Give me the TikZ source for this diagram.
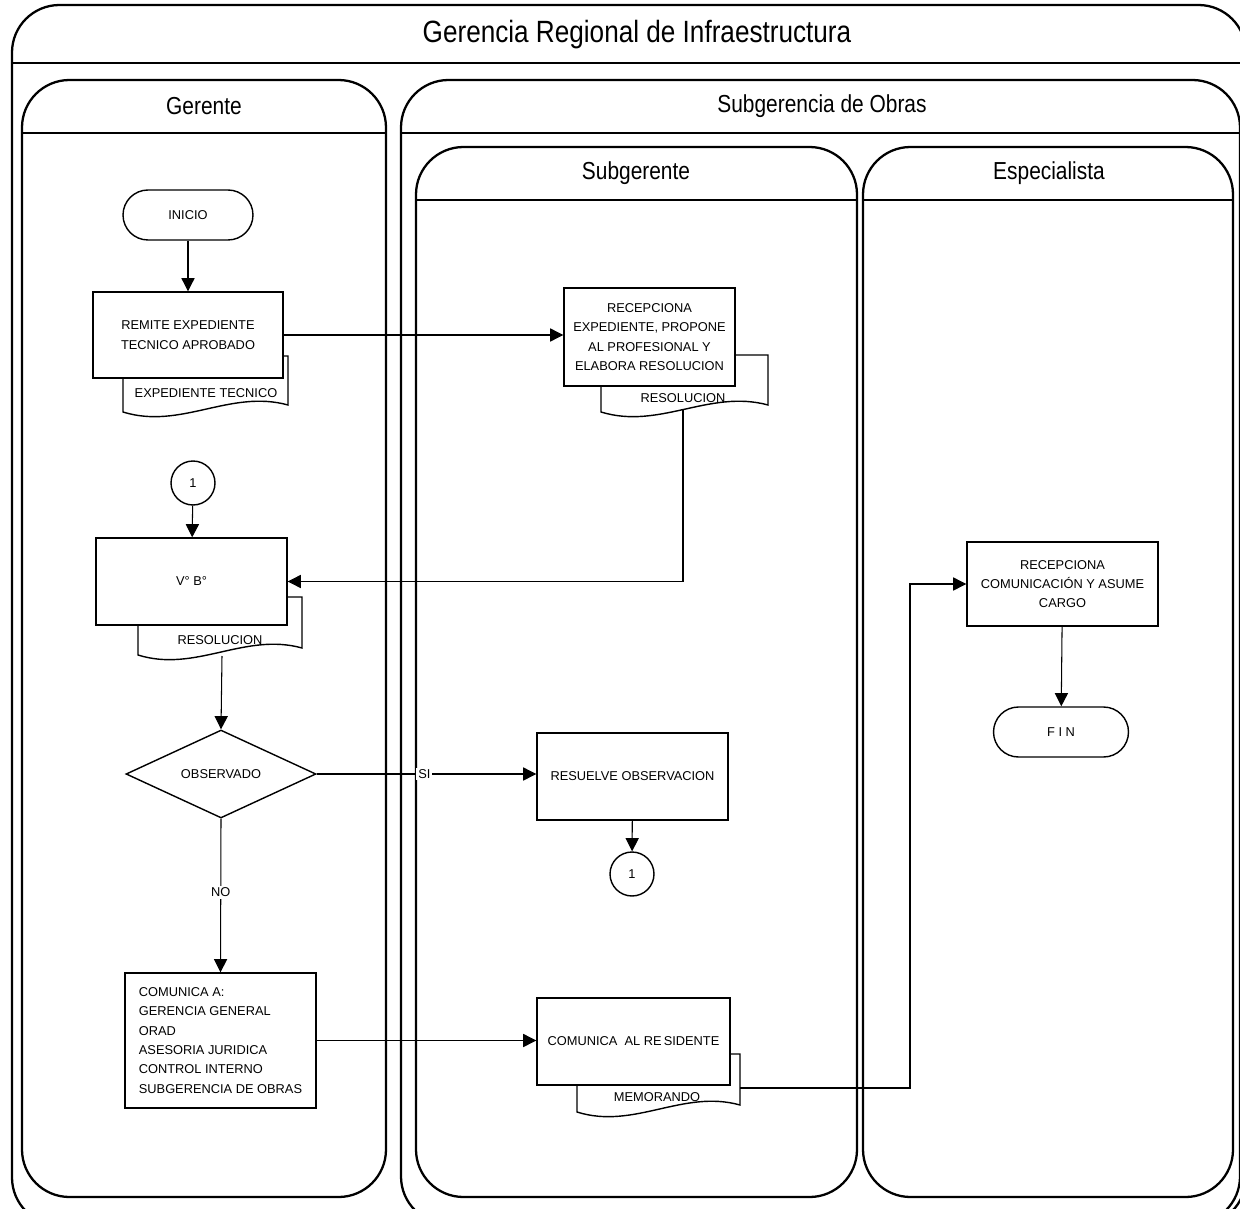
\documentclass[tikz,border=0pt]{standalone}
\usepackage{fontspec}
\setmainfont{Liberation Sans}
\newfontfamily\narrowfont{Liberation Sans}[FakeStretch=0.85]
\usepackage{tikz}
\usetikzlibrary{arrows.meta,shapes.geometric}
% document sheet: left, right, top, bottom
\newcommand{\docsheet}[4]{%
  \pgfmathsetmacro{\dw}{#2-#1}
  \draw[docline] (#1,#4) -- (#1,#3) -- (#2,#3) -- (#2,#4-7)
    .. controls +(-0.35*\dw,-16) and +(0.35*\dw,18) .. (#1,#4) -- cycle;}

\begin{document}
\begin{tikzpicture}[x=0.02cm,y=-0.02cm,
  lane/.style={line width=1.3pt,rounded corners=0.95cm},
  lanetitle/.style={font=\narrowfont\fontsize{14}{16}\selectfont},
  box/.style={draw,fill=white,line width=0.8pt,align=center,inner sep=2pt,
    font=\fontsize{7.3}{11}\selectfont},
  term/.style={box,rounded corners=0.5cm,minimum height=1cm},
  decision/.style={box,diamond,aspect=2.16,inner sep=0pt,
    minimum width=3.8cm,minimum height=1.76cm},
  conn/.style={box,circle,minimum size=0.88cm,inner sep=0pt},
  docline/.style={line width=0.8pt,fill=white},
  doctext/.style={font=\fontsize{7.3}{9}\selectfont,inner sep=1pt},
  flow/.style={line width=0.6pt,-{Triangle[length=7.5pt,width=7.5pt]}},
  lbl/.style={fill=white,inner sep=1pt,font=\fontsize{7.3}{9}\selectfont}]
\useasboundingbox (0,0) rectangle (1240,1209);

% swimlanes
\draw[lane] (12,1225) -- (12,5) -- (1246,5) -- (1246,1225) -- cycle;
\draw[lane] (12,63) -- (1246,63);
\node[font=\narrowfont\fontsize{17.5}{20}\selectfont] (tmain) at (637,35)
  {Gerencia Regional de Infraestructura};

\draw[lane] (22,1197) -- (22,80) -- (386,80) -- (386,1197) -- cycle;
\draw[lane] (22,133) -- (386,133);
\node[lanetitle] (tger) at (204,106) {Gerente};

\draw[lane] (401,1224) -- (401,80) -- (1240,80) -- (1240,1224) -- cycle;
\draw[lane] (401,133) -- (1240,133);
\node[lanetitle] (tsub) at (822,106) {Subgerencia de Obras};

\draw[lane] (416,1197) -- (416,147) -- (857,147) -- (857,1197) -- cycle;
\draw[lane] (416,200) -- (857,200);
\node[lanetitle] (tsge) at (636,173) {Subgerente};

\draw[lane] (863,1197) -- (863,147) -- (1233,147) -- (1233,1197) -- cycle;
\draw[lane] (863,200) -- (1233,200);
\node[lanetitle] (tesp) at (1049,173) {Especialista};

% Gerente
\node[term,minimum width=2.6cm] (inicio) at (188,215) {INICIO};
\docsheet{123}{288}{356}{412}
\node[box,minimum width=3.8cm,minimum height=1.72cm] (remite) at (188,335)
  {REMITE EXPEDIENTE\\TECNICO APROBADO};
\node[doctext] (dexp) at (206,393) {EXPEDIENTE TECNICO};

\node[conn] (c1) at (193,483) {1};
\docsheet{138}{302}{597}{655}
\node[box,minimum width=3.82cm,minimum height=1.74cm] (vbb) at (191.5,581.5) {V° B°};
\node[doctext] (dres2) at (220,640) {RESOLUCION};
\coordinate (r2) at (222,656);

\node[decision] (obs) at (221,774) {OBSERVADO};
\node[box,align=left,minimum width=3.82cm,minimum height=2.7cm] (coma) at (220.5,1040.5)
  {COMUNICA A:\\GERENCIA GENERAL\\ORAD\\ASESORIA JURIDICA\\CONTROL INTERNO\\SUBGERENCIA DE OBRAS};

% Subgerente
\docsheet{601}{768}{355}{412}
\node[box,minimum width=3.42cm,minimum height=1.96cm] (recep) at (649.5,337)
  {RECEPCIONA\\EXPEDIENTE, PROPONE\\AL PROFESIONAL Y\\ELABORA RESOLUCION};
\node[doctext] (dres1) at (683,398) {RESOLUCION};
\coordinate (r1) at (683,409);

\node[box,minimum width=3.82cm,minimum height=1.74cm] (resu) at (632.5,776.5)
  {RESUELVE OBSERVACION};
\node[conn] (c2) at (632,874) {1};

\docsheet{577}{740}{1054}{1112}
\node[box,minimum width=3.86cm,minimum height=1.74cm] (resid) at (633.5,1041.5)
  {COMUNICA \ AL RE\hspace{1.2pt}SIDENTE};
\node[doctext] (dmemo) at (657,1097) {MEMORANDO};
\coordinate (memo) at (740,1088);
\coordinate (bend) at (910,1088);

% Especialista
\node[box,minimum width=3.82cm,minimum height=1.68cm] (recc) at (1062.5,584)
  {RECEPCIONA\\COMUNICACIÓN Y ASUME\\CARGO};
\node[term,minimum width=2.7cm] (fin) at (1061,732) {F I N};

% flow
\draw[flow] (inicio) -- (remite);
\draw[flow] (remite.east) -- (remite.east -| recep.west);
\draw[flow] (r1) |- (vbb.east);
\draw[flow] (c1) -- (vbb);
\draw[flow] (r2) -- (obs.north);
\draw[flow] (obs.east) -- node[lbl,pos=0.49] {SI} (obs.east -| resu.west);
\draw[flow] (resu) -- (c2);
\draw[flow] (obs.south) -- node[lbl,pos=0.48] {NO} (coma.north);
\draw[flow] (coma.east) -- (coma.east -| resid.west);
\draw[flow] (memo) -- (bend) |- (recc.west);
\draw[flow] (recc) -- (fin);
\end{tikzpicture}
\end{document}
